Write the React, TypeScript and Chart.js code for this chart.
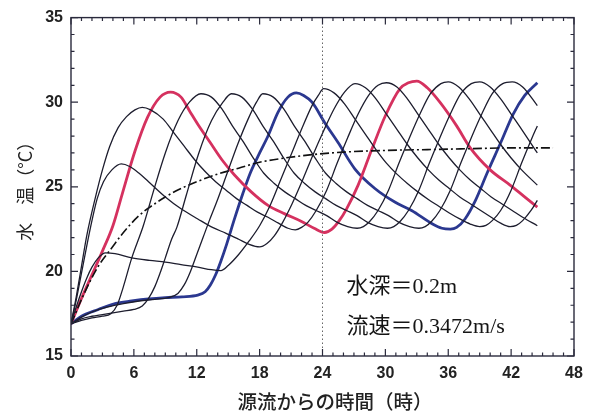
import React, { useEffect, useRef } from "react";
import { Chart, registerables } from "chart.js";

Chart.register(...registerables);

const X_MIN = 0;
const X_MAX = 48;
const Y_MIN = 15;
const Y_MAX = 35;
const X_STEP = 6;
const Y_STEP = 5;

const xTitle = "源流からの時間（時）";
const yTitle = "水　温（°C）";
const depthLabel = "水深＝0.2m";
const speedLabel = "流速＝0.3472m/s";
const markerHour = 24;

// curve starting in the afternoon (small plateau ~21°C)
const c0X = [0, 0.5, 1, 1.5, 2, 2.6, 3.3, 4.2, 5.8, 7.5, 9, 10.5, 12.1, 13.4, 14.3, 15, 16, 17, 18, 19, 20, 21, 22, 23, 23.6, 24.1, 25.1, 26.1, 27.1, 28.1, 29.1, 30.1, 31.1, 32.1, 33.1, 34.1, 35.1, 36.1, 37.1, 38.1, 39.0, 39.6, 40.2, 41.0, 42.0, 43.0, 44.0, 44.5];
const c0Y = [16.9, 17.9, 18.8, 19.6, 20.25, 20.8, 21.1, 21.05, 20.8, 20.65, 20.55, 20.4, 20.25, 20.1, 20.05, 20.35, 21.0, 21.8, 22.7, 23.9, 25.4, 26.9, 28.4, 29.8, 30.4, 30.8, 30.55, 29.9, 29.0, 28.1, 27.2, 26.4, 25.75, 25.2, 24.7, 24.25, 23.85, 23.45, 23.1, 22.8, 22.65, 22.72, 23.0, 23.6, 24.8, 26.4, 27.9, 28.6];

const c1X = [0, 0.5, 1, 1.5, 2, 2.5, 3.1, 3.9, 4.8, 5.6, 6.5, 7.4, 9, 10.5, 12.1, 13.5, 14.8, 16, 17, 18, 18.7, 19.4, 20.2, 21.1, 22.1, 23.1, 24.1, 25.1, 26.1, 27.1, 28.1, 29.1, 30.1, 31.1, 32.1, 33.1, 34.1, 35.1, 36.1, 37.1, 38.1, 39.1, 40.1, 41.0, 41.9, 42.5, 43.1, 43.9, 44.5];
const c1Y = [16.9, 18.3, 19.9, 21.5, 23.0, 24.3, 25.3, 26.0, 26.35, 26.2, 25.8, 25.3, 24.4, 23.7, 23.1, 22.6, 22.25, 21.9, 21.6, 21.45, 21.65, 22.1, 22.9, 24.0, 25.4, 26.9, 28.3, 29.6, 30.6, 31.1, 30.85, 30.2, 29.3, 28.4, 27.5, 26.7, 26.0, 25.4, 24.9, 24.4, 24.0, 23.6, 23.2, 22.85, 22.65, 22.72, 23.0, 23.6, 24.2];

const c2X = [0, 0.5, 1, 1.5, 2.3, 3, 3.7, 4.5, 5.3, 6.1, 6.8, 7.6, 8.8, 9.8, 10.8, 11.8, 12.8, 13.8, 14.8, 15.8, 16.8, 17.8, 18.8, 19.8, 20.7, 21.4, 22.0, 22.6, 23.4, 24.4, 25.4, 26.4, 27.4, 28.4, 29.3, 30.1, 31.1, 32.1, 33.1, 34.1, 35.1, 36.1, 37.1, 38.1, 39.1, 40.1, 41.1, 42.1, 43.1, 44.5];
const c2Y = [16.9, 18.5, 20.3, 22.1, 24.3, 26.0, 27.4, 28.5, 29.15, 29.55, 29.7, 29.55, 29.0, 28.2, 27.4, 26.6, 25.9, 25.3, 24.8, 24.3, 23.9, 23.5, 23.2, 22.85, 22.55, 22.45, 22.6, 22.9, 23.6, 24.8, 26.4, 27.9, 29.3, 30.4, 31.0, 31.15, 30.9, 30.2, 29.3, 28.4, 27.5, 26.7, 26.0, 25.4, 24.9, 24.4, 24.0, 23.6, 23.2, 22.7];

// highlighted red curve
const redX = [0, 1, 2, 3, 4, 4.9, 6.1, 7.3, 8.5, 9.5, 10.5, 11.3, 12.1, 13.3, 14.4, 15.6, 17.2, 18.8, 20.4, 22, 23.2, 24.2, 24.9, 25.6, 26.3, 27.4, 28.7, 30, 31.4, 32.2, 33, 34, 35.2, 36.8, 38.1, 40, 41.9, 43.2, 44.5];
const redY = [16.9, 18.4, 19.8, 21.2, 22.7, 24.6, 27.1, 29.1, 30.3, 30.6, 30.3, 29.5, 28.7, 27.6, 26.6, 25.7, 24.7, 23.9, 23.4, 22.95, 22.55, 22.3, 22.5, 23.0, 23.7, 25.1, 27.2, 29.2, 30.8, 31.15, 31.25, 30.85, 30.0, 28.6, 27.3, 26.0, 25.1, 24.45, 23.8];

const c4X = [0, 1, 2, 3, 3.8, 4.4, 5, 5.8, 6.9, 7.8, 9.0, 10.2, 11.3, 12.4, 13.4, 14.4, 15.4, 16.4, 17.4, 18.4, 19.4, 20.4, 21.4, 22.4, 23.4, 24.4, 25.4, 26.4, 27.3, 27.9, 28.5, 29.3, 30.3, 31.3, 32.3, 33.3, 34.3, 35.3, 36.0, 37.0, 38.0, 39.0, 40.0, 41.0, 42.0, 43.0, 44.5];
const c4Y = [16.9, 17.1, 17.25, 17.35, 17.5, 18.0, 19.1, 20.8, 22.7, 24.6, 27.0, 28.9, 30.0, 30.5, 30.3, 29.6, 28.6, 27.7, 26.7, 25.8, 25.2, 24.7, 24.3, 23.9, 23.6, 23.3, 22.9, 22.65, 22.55, 22.65, 22.95, 23.6, 24.8, 26.4, 27.9, 29.3, 30.5, 31.1, 31.2, 30.9, 30.2, 29.3, 28.4, 27.5, 26.7, 26.0, 25.1];

const c5X = [0, 1, 2, 3, 4, 5, 6, 6.8, 7.4, 8, 8.5, 9, 9.6, 10.1, 11.0, 12.2, 13.4, 14.5, 15.3, 16.3, 17.3, 18.3, 19.3, 20.3, 21.3, 22.3, 23.3, 24.3, 25.3, 26.3, 27.3, 28.3, 29.3, 30.2, 30.8, 31.4, 32.2, 33.2, 34.2, 35.2, 36.2, 37.2, 38.2, 39.0, 40.0, 41.0, 42.0, 43.0, 44.5];
const c5Y = [16.9, 17.2, 17.35, 17.45, 17.55, 17.65, 17.75, 17.95, 18.4, 19.1, 19.9, 20.8, 21.9, 22.6, 24.5, 27.0, 28.9, 30.0, 30.5, 30.3, 29.6, 28.6, 27.7, 26.7, 25.8, 25.2, 24.7, 24.3, 23.9, 23.6, 23.3, 22.9, 22.65, 22.55, 22.65, 22.95, 23.6, 24.8, 26.4, 27.9, 29.3, 30.5, 31.1, 31.2, 30.9, 30.2, 29.3, 28.4, 27.0];

const c6X = [0, 1, 2, 3.5, 5, 6.5, 8, 9.3, 10.2, 10.8, 11.4, 12, 12.6, 13.2, 13.9, 14.9, 15.9, 16.9, 17.7, 18.3, 19.3, 20.3, 21.3, 22.3, 23.3, 24.3, 25.3, 26.3, 27.3, 28.3, 29.3, 30.3, 31.3, 32.3, 33.2, 33.8, 34.4, 35.2, 36.2, 37.2, 38.2, 39.2, 40.2, 41.2, 42.1, 43.1, 44.5];
const c6Y = [16.9, 17.3, 17.6, 17.9, 18.1, 18.25, 18.35, 18.45, 18.7, 19.2, 20.0, 21.0, 22.0, 23.0, 24.1, 25.8, 27.5, 29.0, 30.0, 30.5, 30.3, 29.6, 28.6, 27.7, 26.7, 25.8, 25.2, 24.7, 24.3, 23.9, 23.6, 23.3, 22.9, 22.65, 22.55, 22.65, 22.95, 23.6, 24.8, 26.4, 27.9, 29.3, 30.5, 31.1, 31.2, 30.9, 29.8];

// highlighted blue curve
const blueX = [0, 1, 2.6, 4.2, 5.8, 7.4, 9, 10.6, 12.1, 12.8, 13.3, 13.8, 14.3, 14.85, 15.6, 16.4, 17.1, 18, 18.8, 19.75, 20.7, 21.5, 22.2, 23, 24.2, 25.5, 27.1, 29, 30.9, 32.5, 34.5, 35.4, 36.2, 36.8, 37.6, 38.6, 39.7, 41, 42.2, 43.3, 44.5];
const blueY = [16.9, 17.35, 17.75, 18.1, 18.25, 18.37, 18.45, 18.5, 18.6, 18.8, 19.2, 19.8, 20.6, 21.6, 23.1, 24.6, 25.8, 27.0, 28.0, 29.4, 30.3, 30.55, 30.4, 30.0, 28.8, 27.6, 26.05, 24.9, 24.1, 23.6, 22.8, 22.55, 22.5, 22.6, 23.1, 24.2, 25.8, 27.6, 29.3, 30.4, 31.15];

// equilibrium (dash-dot) curve
const eqX = [0, 1.3, 2.6, 3.9, 5, 6.5, 8, 10, 12, 14, 16, 18, 20.4, 23, 26, 30, 34, 38, 42, 46];
const eqY = [16.9, 18.75, 20.3, 21.4, 22.3, 23.3, 24.0, 24.75, 25.3, 25.75, 26.1, 26.45, 26.7, 26.9, 27.05, 27.15, 27.2, 27.25, 27.3, 27.3];

const BLACK = "#1d1d2e";
const RED = "#d5315f";
const BLUE = "#2b3890";

function pts(xs: number[], ys: number[]) {
  return xs.map((x, i) => ({ x, y: ys[i] }));
}

function lineDs(xs: number[], ys: number[], color: string, width: number, extra: any = {}) {
  return {
    data: pts(xs, ys),
    borderColor: color,
    borderWidth: width,
    pointRadius: 0,
    fill: false,
    cubicInterpolationMode: "monotone",
    ...extra,
  };
}

const framePlugin = {
  id: "frameTicks",
  afterDatasetsDraw(chart: any) {
    const { ctx, chartArea: a, scales } = chart;
    const x = scales.x;
    const y = scales.y;
    ctx.save();
    ctx.strokeStyle = "#2a2a3c";
    ctx.lineWidth = 1.4;
    ctx.strokeRect(a.left, a.top, a.right - a.left, a.bottom - a.top);
    ctx.lineWidth = 1.2;
    ctx.beginPath();
    for (let v = X_MIN; v <= X_MAX; v += 1) {
      const px = x.getPixelForValue(v);
      const len = v % X_STEP === 0 ? 7 : 3.5;
      ctx.moveTo(px, a.bottom);
      ctx.lineTo(px, a.bottom - len);
      ctx.moveTo(px, a.top);
      ctx.lineTo(px, a.top + len);
    }
    for (let v = Y_MIN; v <= Y_MAX; v += 1) {
      const py = y.getPixelForValue(v);
      const len = v % Y_STEP === 0 ? 7 : 3.5;
      ctx.moveTo(a.left, py);
      ctx.lineTo(a.left + len, py);
      ctx.moveTo(a.right, py);
      ctx.lineTo(a.right - len, py);
    }
    ctx.stroke();

    ctx.fillStyle = "#151515";
    ctx.textAlign = "left";
    ctx.textBaseline = "alphabetic";
    ctx.font = '22px "Liberation Serif", "Noto Sans CJK JP", serif';
    ctx.fillText(depthLabel, x.getPixelForValue(26.3), y.getPixelForValue(18.74));
    ctx.fillText(speedLabel, x.getPixelForValue(26.3), y.getPixelForValue(16.35));

    ctx.font = '500 19.5px "Noto Sans CJK JP", sans-serif';
    ctx.textAlign = "center";
    ctx.textBaseline = "middle";
    ctx.fillStyle = "#222";
    ctx.fillText(xTitle, x.getPixelForValue(25.2), a.bottom + 46);
    ctx.restore();
  },
};

export default function App() {
  const ref = useRef<HTMLCanvasElement | null>(null);

  useEffect(() => {
    document.body.style.margin = "0";
    const canvas = ref.current;
    if (!canvas) return;
    const tickFont = { family: '"Liberation Sans", Arial, sans-serif', size: 16, weight: "bold" as const };
    const chart = new Chart(canvas, {
      type: "line",
      data: {
        datasets: [
          lineDs([markerHour, markerHour], [Y_MIN, Y_MAX], "#666", 1, { borderDash: [1.5, 2.5], cubicInterpolationMode: "default", tension: 0 }),
          lineDs(c0X, c0Y, BLACK, 1.3),
          lineDs(c1X, c1Y, BLACK, 1.3),
          lineDs(c2X, c2Y, BLACK, 1.3),
          lineDs(c4X, c4Y, BLACK, 1.3),
          lineDs(c5X, c5Y, BLACK, 1.3),
          lineDs(c6X, c6Y, BLACK, 1.3),
          lineDs(eqX, eqY, "#111", 1.6, { borderDash: [9, 3, 2, 3] }),
          lineDs(redX, redY, RED, 2.8),
          lineDs(blueX, blueY, BLUE, 2.8),
        ] as any,
      },
      options: {
        animation: false,
        responsive: false,
        maintainAspectRatio: false,
        events: [],
        layout: { padding: { top: 14, right: 26, left: 0, bottom: 0 } },
        plugins: { legend: { display: false }, tooltip: { enabled: false } },
        scales: {
          x: {
            type: "linear",
            min: X_MIN,
            max: X_MAX,
            grid: { display: false, drawTicks: false },
            border: { display: false },
            ticks: { stepSize: X_STEP, padding: 8, color: "#222", font: tickFont, maxRotation: 0 },
            afterFit: (s: any) => {
              s.height = 64;
            },
          },
          y: {
            type: "linear",
            min: Y_MIN,
            max: Y_MAX,
            grid: { display: false, drawTicks: false },
            border: { display: false },
            ticks: { stepSize: Y_STEP, padding: 8, color: "#222", font: tickFont },
            title: {
              display: true,
              text: yTitle,
              color: "#222",
              font: { family: '"Noto Sans CJK JP", sans-serif', size: 18 },
              padding: { top: 14, bottom: 0 },
            },
            afterFit: (s: any) => {
              s.width = 71;
            },
          },
        },
      },
      plugins: [framePlugin],
    });
    return () => chart.destroy();
  }, []);

  return (
    <div style={{ width: 600, height: 420, background: "#fff" }}>
      <canvas ref={ref} width={600} height={420} style={{ display: "block" }} />
    </div>
  );
}
